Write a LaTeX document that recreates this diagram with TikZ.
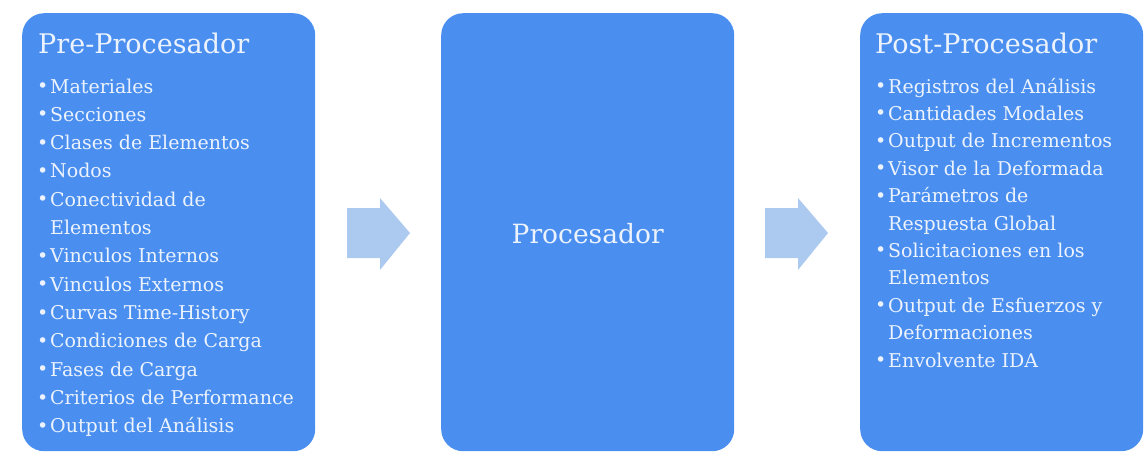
\documentclass[tikz,border=0pt]{standalone}
\usepackage{fontspec}
\setmainfont{DejaVu Serif}
\definecolor{boxblue}{RGB}{74,143,240}
\definecolor{arrowblue}{RGB}{172,202,240}
\definecolor{txtcol}{RGB}{236,243,253}
\newcommand\bul{\llap{\makebox[13pt][l]{\raisebox{0.5pt}{•}}}}
\tikzset{
  bigbox/.style={fill=boxblue, draw=none, rounded corners=22pt, inner sep=0pt, anchor=north west, minimum height=438pt},
  titletxt/.style={text=txtcol, inner sep=0pt, anchor=base west, font=\fontsize{27}{32}\selectfont},
  itemtxt/.style={text=txtcol, inner sep=0pt, anchor=base west, font=\fontsize{19}{23}\selectfont},
  blockarrow/.style={fill=arrowblue, draw=none}
}
\begin{document}
\begin{tikzpicture}[x=1pt,y=-1pt]
\useasboundingbox (0,0) rectangle (1146,456);
\node[bigbox, minimum width=293pt] (pre) at (22,13) {};
\node[bigbox, minimum width=293pt] (proc) at (441,13) {};
\node[bigbox, minimum width=283pt] (post) at (860,13) {};

\node[titletxt] (pretitle) at (38,53) {Pre-Procesador};
\node[titletxt] (posttitle) at (875,53) {Post-Procesador};
\node[text=txtcol, inner sep=0pt, font=\fontsize{26.5}{32}\selectfont] (proctitle) at ([yshift=-1pt]proc.center) {Procesador};

\foreach \t [count=\i] in {\bul Materiales, \bul Secciones, \bul Clases de Elementos, \bul Nodos, \bul Conectividad de, Elementos, \bul Vinculos Internos, \bul Vinculos Externos, \bul Curvas Time-History, \bul Condiciones de Carga, \bul Fases de Carga, \bul Criterios de Performance, \bul Output del Análisis}
  \node[itemtxt] (pre\i) at (50,{93+(\i-1)*28.33}) {\t};

\foreach \t [count=\i] in {\bul Registros del Análisis, \bul Cantidades Modales, \bul Output de Incrementos, \bul Visor de la Deformada, \bul Parámetros de, Respuesta Global, \bul Solicitaciones en los, Elementos, \bul Output de Esfuerzos y, Deformaciones, \bul Envolvente IDA}
  \node[itemtxt] (post\i) at (888,{93+(\i-1)*27.4}) {\t};

% block arrows
\coordinate (a1) at (347,233);
\fill[blockarrow] (a1) ++(0,-25) -- ++(33,0) -- ++(0,-10) -- (410,233) -- (380,270) -- (380,258) -- ++(-33,0) -- cycle;
\coordinate (a2) at (765,233);
\fill[blockarrow] (a2) ++(0,-25) -- ++(33,0) -- ++(0,-10) -- (828,233) -- (798,270) -- (798,258) -- ++(-33,0) -- cycle;
\end{tikzpicture}
\end{document}
